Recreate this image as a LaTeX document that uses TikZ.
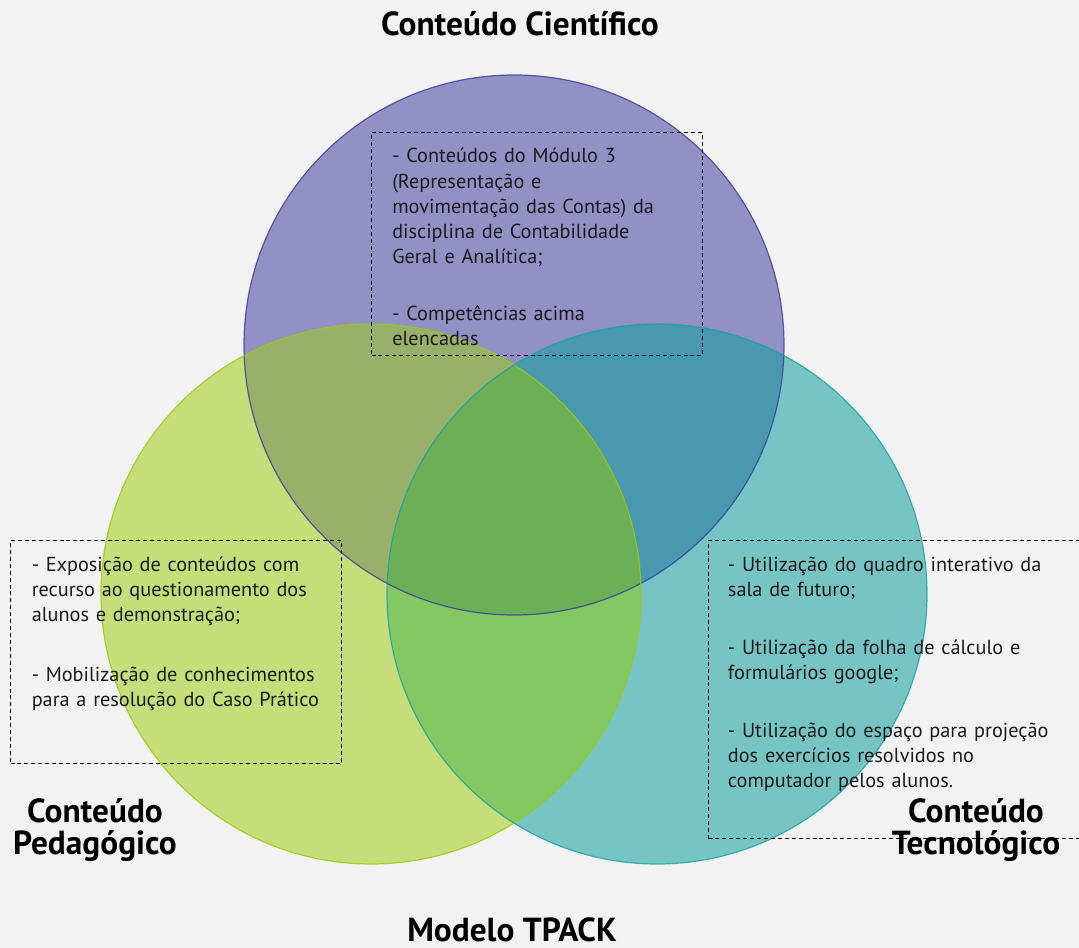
\documentclass[tikz,border=0pt]{standalone}
\usepackage{fontspec}
\setmainfont{PT Sans}
\usetikzlibrary{positioning}

\definecolor{fundo}{HTML}{F2F2F2}
\definecolor{cienfill}{HTML}{9390C6}
\definecolor{pedafill}{HTML}{C5DE7A}
\definecolor{tecnfill}{HTML}{77C4C4}
\definecolor{cpfill}{HTML}{98B069}
\definecolor{ctfill}{HTML}{4898B0}
\definecolor{ptfill}{HTML}{84C864}
\definecolor{cptfill}{HTML}{6BB057}
\definecolor{cienline}{HTML}{3A3A98}
\definecolor{pedaline}{HTML}{9CC812}
\definecolor{tecnline}{HTML}{1AA0A0}
\definecolor{texto}{HTML}{1A1A1A}

\tikzset{
  raio/.style={radius=202.5pt},
  dashbox/.style={draw=black, dash pattern=on 3pt off 2.2pt, line width=0.75pt, inner sep=0pt, anchor=north west},
  boxtext/.style={anchor=base west, align=left, text width=300pt, inner sep=0pt, text=texto,
    font=\fontsize{15.2}{18.8}\selectfont},
  titulo/.style={anchor=base, align=center, inner sep=0pt, font=\fontsize{25}{24}\selectfont\bfseries}
}

\begin{document}
\begin{tikzpicture}[x=0.75pt,y=-0.75pt]
\fill[fundo] (0,0) rectangle (1079,948);
\useasboundingbox (0,0) rectangle (1079,948);

\coordinate (cien) at (514,345);
\coordinate (peda) at (371,594);
\coordinate (tecn) at (657,594);

% circulos
\fill[cienfill] (cien) circle[raio];
\fill[pedafill] (peda) circle[raio];
\fill[tecnfill] (tecn) circle[raio];
\begin{scope}
  \clip (cien) circle[raio];
  \fill[cpfill] (peda) circle[raio];
  \fill[ctfill] (tecn) circle[raio];
\end{scope}
\begin{scope}
  \clip (peda) circle[raio];
  \fill[ptfill] (tecn) circle[raio];
  \clip (cien) circle[raio];
  \fill[cptfill] (tecn) circle[raio];
\end{scope}
\draw[cienline, line width=0.9pt, draw opacity=0.8] (cien) circle[raio];
\draw[pedaline, line width=0.9pt, draw opacity=0.8] (peda) circle[raio];
\draw[tecnline, line width=0.9pt, draw opacity=0.8] (tecn) circle[raio];

% caixas
\node[dashbox, minimum width=248.25pt, minimum height=167.25pt] (cienbox) at (371,132) {};
\node[dashbox, minimum width=248.25pt, minimum height=167.25pt] (pedabox) at (10,540) {};
\node[dashbox, minimum width=290pt, minimum height=223.5pt] (tecnbox) at (708,540) {};

\begin{scope}
  \clip (371,132) rectangle (702,346);
  \node[boxtext] (cientxt) at (392,163) {- Conteúdos do Módulo 3\\(Representação e\\movimentação das Contas) da\\disciplina de Contabilidade\\Geral e Analítica;\\[24.4pt]- Competências acima\\elencadas};
\end{scope}
\node[boxtext] (pedatxt) at (31.5,571.7) {- Exposição de conteúdos com\\recurso ao questionamento dos\\alunos e demonstração;\\[26pt]- Mobilização de conhecimentos\\para a resolução do Caso Prático};
\node[boxtext] (tecntxt) at (727.7,571.7) {- Utilização do quadro interativo da\\sala de futuro;\\[24.4pt]- Utilização da folha de cálculo e\\formulários google;\\[24.4pt]- Utilização do espaço para projeção\\dos exercícios resolvidos no\\computador pelos alunos.};

% titulos
\node[titulo] (tcien) at (520,36) {Conteúdo Científico};
\node[titulo] (tpeda) at (95,854) {Conteúdo\\Pedagógico};
\node[titulo] (ttecn) at (976,854) {Conteúdo\\Tecnológico};
\node[titulo] (tmodelo) at (512,941) {Modelo TPACK};
\end{tikzpicture}
\end{document}
